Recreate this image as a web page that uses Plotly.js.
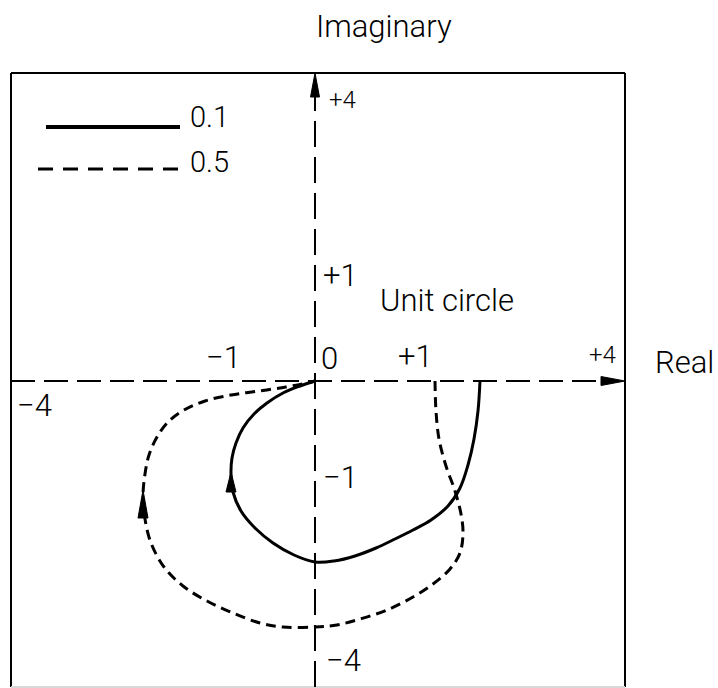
<!DOCTYPE html>
<html>
<head>
<meta charset="utf-8">
<script src="https://cdn.plot.ly/plotly-3.0.1.min.js"></script>
<style>
  html, body { margin: 0; padding: 0; background: #fff; }
  #plot { width: 718px; height: 688px; }
</style>
</head>
<body>
<div id="plot"></div>
<script>
// Frequency-response loci in the complex plane, two parameter values.
const seriesNames = ['0.1', '0.5'];

// Locus for 0.1 (solid)
const solidRe = [1.65, 1.63, 1.59, 1.53, 1.45, 1.33, 1.16, 0.98, 0.80, 0.61, 0.40, 0.19, 0.00,
                 -0.21, -0.42, -0.60, -0.74, -0.82, -0.84, -0.83, -0.79, -0.72, -0.61, -0.48, -0.32, -0.15, 0.00];
const solidIm = [0.00, -0.30, -0.58, -0.84, -1.07, -1.25, -1.39, -1.49, -1.58, -1.67, -1.75, -1.80, -1.81,
                 -1.74, -1.62, -1.47, -1.30, -1.11, -0.93, -0.77, -0.62, -0.47, -0.33, -0.22, -0.12, -0.05, 0.00];

// Locus for 0.5 (dashed)
const dashRe = [1.20, 1.21, 1.24, 1.31, 1.40, 1.46, 1.48, 1.45, 1.35, 1.18, 0.98, 0.72, 0.45, 0.22, 0.00,
                -0.32, -0.55, -0.82, -1.08, -1.32, -1.51, -1.64, -1.70, -1.72, -1.70, -1.66, -1.58,
                -1.47, -1.31, -1.10, -0.84, -0.56, -0.29, -0.08, 0.00];
const dashIm = [0.00, -0.30, -0.58, -0.85, -1.10, -1.33, -1.52, -1.72, -1.88, -2.03, -2.16, -2.29, -2.38, -2.44, -2.46,
                -2.46, -2.42, -2.32, -2.20, -2.05, -1.86, -1.62, -1.38, -1.15, -0.93, -0.74, -0.56,
                -0.41, -0.29, -0.20, -0.14, -0.10, -0.06, -0.02, 0.00];

// Direction arrows on each locus (tip positions)
const arrowRe = [-0.84, -1.72];
const arrowIm = [-0.91, -1.09];

// Axis labels
const realTickText = ['\u22124', '\u22121', '0', '+1', '+4'];
const imagTickText = ['+4', '+1', '\u22121', '\u22124'];

// ---------------------------------------------------------------
const XR = [-3.04, 3.10];
const YR = [-3.06, 3.08];
const FONT = 'Roboto, Liberation Sans, Arial, sans-serif';
const WEIGHT = 300;

const traces = [
  { x: solidRe, y: solidIm, name: seriesNames[0], type: 'scatter', mode: 'lines',
    line: { color: '#000', width: 3, shape: 'spline', smoothing: 1 }, hoverinfo: 'skip' },
  { x: dashRe, y: dashIm, name: seriesNames[1], type: 'scatter', mode: 'lines',
    line: { color: '#000', width: 3, dash: '10px,6px', shape: 'spline', smoothing: 1 }, hoverinfo: 'skip' }
];

const shapes = [];
const blk = { color: '#000', width: 2 };

// frame: left, top, right in black, bottom edge faint
shapes.push({ type: 'line', xref: 'paper', yref: 'paper', x0: 0, y0: 0, x1: 0, y1: 1, line: blk });
shapes.push({ type: 'line', xref: 'paper', yref: 'paper', x0: 0, y0: 1, x1: 1, y1: 1, line: blk });
shapes.push({ type: 'line', xref: 'paper', yref: 'paper', x0: 1, y0: 0, x1: 1, y1: 1, line: blk });
shapes.push({ type: 'line', xref: 'paper', yref: 'paper', x0: 0, y0: 0, x1: 1, y1: 0,
              line: { color: '#d8d8d8', width: 2 } });

// dashed real and imaginary axes with arrowheads
shapes.push({ type: 'line', xref: 'x', yref: 'y', x0: XR[0], y0: 0, x1: XR[1] - 0.2, y1: 0,
              line: { color: '#000', width: 2, dash: '24px,9px' } });
shapes.push({ type: 'line', xref: 'x', yref: 'y', x0: 0, y0: YR[0], x1: 0, y1: YR[1] - 0.2,
              line: { color: '#000', width: 2, dash: '26px,10px' } });
shapes.push({ type: 'path', xref: 'x', yref: 'y',
              path: `M${XR[1]},0 L${XR[1] - 0.24},0.045 L${XR[1] - 0.24},-0.045 Z`,
              fillcolor: '#000', line: { color: '#000', width: 1 } });
shapes.push({ type: 'path', xref: 'x', yref: 'y',
              path: `M0,${YR[1]} L0.045,${YR[1] - 0.24} L-0.045,${YR[1] - 0.24} Z`,
              fillcolor: '#000', line: { color: '#000', width: 1 } });

// arrowheads on the loci, pointing upward
const arrowLen = [0.20, 0.28];
arrowRe.forEach((xr, i) => {
  const yi = arrowIm[i], L = arrowLen[i], w = 0.05;
  shapes.push({ type: 'path', xref: 'x', yref: 'y',
    path: `M${xr},${yi} L${xr + w},${yi - L} L${xr - w},${yi - L} Z`,
    fillcolor: '#000', line: { color: '#000', width: 1 } });
});

// legend samples
shapes.push({ type: 'line', xref: 'x', yref: 'y', x0: -2.69, y0: 2.54, x1: -1.35, y1: 2.54,
              line: { color: '#000', width: 4 } });
shapes.push({ type: 'line', xref: 'x', yref: 'y', x0: -2.77, y0: 2.12, x1: -1.35, y1: 2.12,
              line: { color: '#000', width: 3, dash: '15px,10px' } });

function label(text, x, y, size, anchor, ref) {
  return { text: text, x: x, y: y, xref: ref ? 'paper' : 'x', yref: ref ? 'paper' : 'y',
           showarrow: false, xanchor: anchor || 'center', yanchor: 'middle',
           font: { family: FONT, size: size, color: '#000', weight: WEIGHT } };
}

const realTickPos = [[-2.81, -0.24], [-0.92, 0.24], [0.14, 0.23], [1.00, 0.25], [2.87, 0.26]];
const imagTickPos = [[0.27, 2.81], [0.25, 1.06], [0.25, -0.96], [0.28, -2.79]];

const annotations = [];
realTickText.forEach((t, i) => {
  const big = t !== '+4';
  annotations.push(label(t, realTickPos[i][0], realTickPos[i][1], big ? 31 : 24));
});
imagTickText.forEach((t, i) => {
  const big = t !== '+4';
  annotations.push(label(t, imagTickPos[i][0], imagTickPos[i][1], big ? 31 : 24));
});
// axis names sit outside the plotting area
annotations.push(label('Imaginary', 0.6075, 1.075, 31, 'center', true));
annotations.push(label('Real', 1.0456, 0.529, 31, 'left', true));
annotations.push(label('Unit circle', 0.63, 0.81, 31, 'left'));
annotations.push(label(seriesNames[0], -1.27, 2.64, 29, 'left'));
annotations.push(label(seriesNames[1], -1.27, 2.19, 29, 'left'));

const layout = {
  width: 718, height: 688,
  margin: { l: 11, r: 93, t: 73, b: 1, pad: 0 },
  paper_bgcolor: '#fff', plot_bgcolor: '#fff',
  showlegend: false,
  xaxis: { range: XR, visible: false, fixedrange: true },
  yaxis: { range: YR, visible: false, fixedrange: true },
  shapes: shapes,
  annotations: annotations
};

Plotly.newPlot('plot', traces, layout, { displayModeBar: false, staticPlot: true });
</script>
</body>
</html>
